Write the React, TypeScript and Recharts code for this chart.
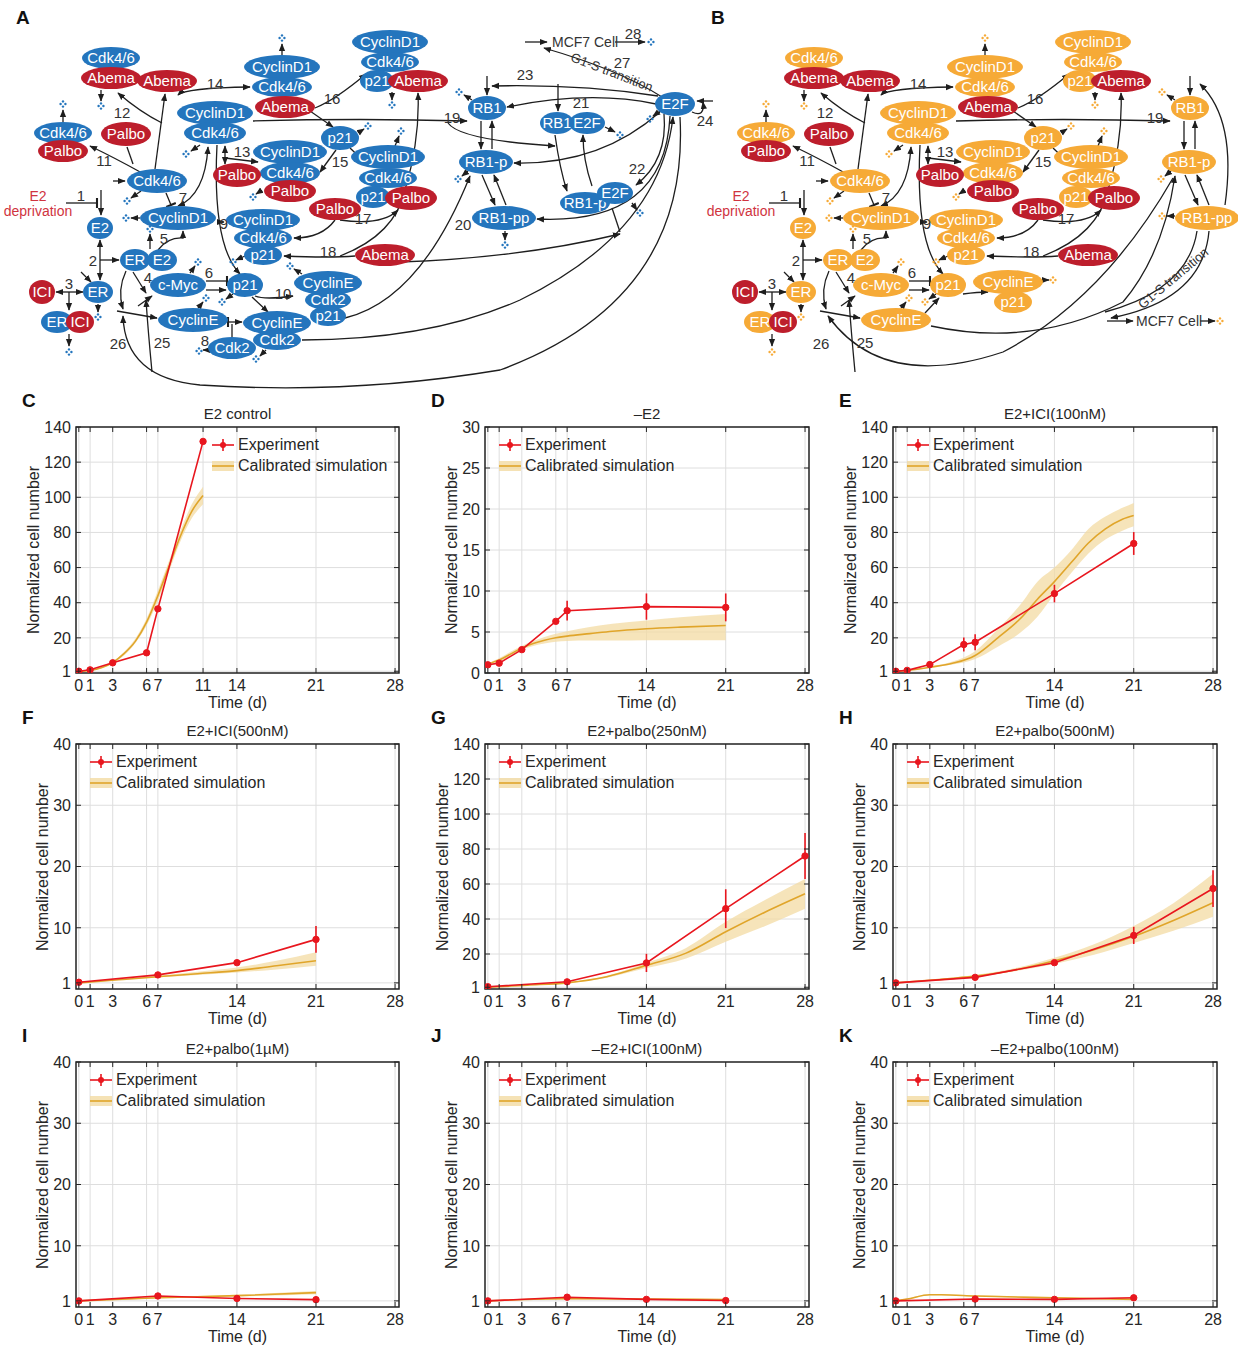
import React from 'react';
import { ComposedChart, Line, Area, XAxis, YAxis, CartesianGrid, ErrorBar, ReferenceArea } from 'recharts';

const FONT = '"Liberation Sans", Arial, Helvetica, sans-serif';
const RED = '#e8161e';
const ORANGE = '#e0a52a';
const BAND = '#f3dba3';
const BLUE = '#2475bd';
const DARKRED = '#bd1e2c';
const ORANGE_NODE = '#f6aa37';
const INK = '#262626';

// ---------------- tick labels ----------------
const xTicksC = [0, 1, 3, 6, 7, 11, 14, 21, 28];
const xTicksStd = [0, 1, 3, 6, 7, 14, 21, 28];
const yTicks140 = [1, 20, 40, 60, 80, 100, 120, 140];
const yTicks30 = [0, 5, 10, 15, 20, 25, 30];
const yTicks40 = [1, 10, 20, 30, 40];

// ---------------- C: E2 control ----------------
const cExpDays = [0, 1, 3, 6, 7, 11];
const cExpVals = [1, 1.8, 5.8, 11.5, 36.5, 131.8];
const cExpErr = [0.2, 0.3, 0.4, 0.6, 0.8, 1.2];
const cSimDays = [0, 1, 2, 3, 4, 5, 6, 7, 8, 9, 10, 11];
const cSimMid = [1, 1.5, 3, 6, 11, 18, 29, 44, 61, 78, 92, 101];
const cSimLo = [1, 1.4, 2.8, 5.6, 10, 17, 27, 41, 58, 75, 88, 96];
const cSimHi = [1, 1.6, 3.2, 6.4, 12, 19.5, 31, 47, 64, 81, 96, 106];

// ---------------- D: -E2 ----------------
const dExpDays = [0, 1, 3, 6, 7, 14, 21];
const dExpVals = [1.0, 1.2, 2.85, 6.3, 7.6, 8.1, 8.0];
const dExpErr = [0.2, 0.2, 0.2, 0.3, 1.2, 1.6, 1.7];
const dSimDays = [0, 1, 2, 3, 4, 5, 6, 7, 9, 11, 14, 17, 21];
const dSimMid = [1.1, 1.6, 2.3, 3.05, 3.6, 4.0, 4.3, 4.5, 4.8, 5.1, 5.4, 5.6, 5.8];
const dSimLo = [1.0, 1.4, 2.1, 2.8, 3.3, 3.6, 3.8, 3.9, 3.95, 3.95, 4.0, 4.0, 4.0];
const dSimHi = [1.2, 1.8, 2.6, 3.3, 3.9, 4.4, 4.8, 5.1, 5.6, 6.0, 6.4, 6.8, 7.2];

// ---------------- E: E2+ICI(100nM) ----------------
const eExpDays = [0, 1, 3, 6, 7, 14, 21];
const eExpVals = [1, 1.5, 4.8, 16.2, 17.5, 45.2, 73.7];
const eExpErr = [0.3, 0.3, 1, 4, 4.5, 5, 6.5];
const eSimDays = [0, 1, 3, 5, 7, 9, 11, 12.5, 14, 15.5, 17, 18.5, 20, 21];
const eSimMid = [1, 1.5, 3.3, 5.5, 10, 20, 31, 42, 52, 63, 74, 82, 87.5, 89.6];
const eSimLo = [1, 1.4, 3, 4.8, 8, 15, 23, 32, 45, 57, 68, 76, 81, 83.5];
const eSimHi = [1, 1.6, 3.6, 6.5, 12.4, 25, 39, 52, 60, 70, 82, 89, 94, 96.8];

// ---------------- F: E2+ICI(500nM) ----------------
const fExpDays = [0, 7, 14, 21];
const fExpVals = [1.1, 2.3, 4.3, 8.1];
const fExpErr = [0.2, 0.3, 0.3, 2.2];
const fSimDays = [0, 3.5, 7, 10.5, 14, 17.5, 21];
const fSimMid = [1.0, 1.5, 2.0, 2.5, 3.0, 3.8, 4.6];
const fSimLo = [1.0, 1.45, 1.9, 2.3, 2.7, 3.2, 3.8];
const fSimHi = [1.0, 1.55, 2.15, 2.8, 3.5, 4.6, 6.0];

// ---------------- G: E2+palbo(250nM) ----------------
const gExpDays = [0, 7, 14, 21, 28];
const gExpVals = [1.3, 4.1, 14.9, 45.9, 76];
const gExpErr = [0.5, 1, 5.2, 11.1, 13.2];
const gSimDays = [0, 3.5, 7, 10.5, 14, 17.5, 21, 24.5, 28];
const gSimMid = [1, 2.2, 3.5, 7, 13.5, 20.5, 32.7, 44, 54.4];
const gSimLo = [1, 2.1, 3.3, 6.5, 12, 17.5, 27, 36, 45.9];
const gSimHi = [1, 2.3, 3.7, 7.6, 15, 23.5, 38.4, 51, 62.8];

// ---------------- H: E2+palbo(500nM) ----------------
const hExpDays = [0, 7, 14, 21, 28];
const hExpVals = [1.0, 1.9, 4.3, 8.75, 16.4];
const hExpErr = [0.1, 0.2, 0.2, 1.4, 3];
const hSimDays = [0, 3.5, 7, 10.5, 14, 17.5, 21, 24.5, 28];
const hSimMid = [1.0, 1.5, 2.1, 3.1, 4.6, 6.4, 8.6, 11.2, 14.1];
const hSimLo = [1.0, 1.45, 2.0, 2.9, 4.1, 5.6, 7.5, 9.5, 11.8];
const hSimHi = [1.0, 1.6, 2.3, 3.4, 5.1, 7.3, 10.3, 14, 18.8];

// ---------------- I: E2+palbo(1µM) ----------------
const iExpDays = [0, 7, 14, 21];
const iExpVals = [1.0, 1.8, 1.4, 1.2];
const iExpErr = [0.1, 0.15, 0.15, 0.1];
const iSimDays = [0, 7, 14, 21];
const iSimMid = [1.0, 1.5, 1.85, 2.35];
const iSimLo = [0.95, 1.4, 1.7, 2.1];
const iSimHi = [1.05, 1.6, 2.0, 2.6];

// ---------------- J: -E2+ICI(100nM) ----------------
const jExpDays = [0, 7, 14, 21];
const jExpVals = [1.0, 1.6, 1.25, 1.05];
const jExpErr = [0.1, 0.15, 0.1, 0.1];
const jSimDays = [0, 7, 14, 21];
const jSimMid = [1.0, 1.35, 1.3, 1.2];
const jSimLo = [0.95, 1.25, 1.2, 1.1];
const jSimHi = [1.05, 1.45, 1.4, 1.3];

// ---------------- K: -E2+palbo(100nM) ----------------
const kExpDays = [0, 7, 14, 21];
const kExpVals = [1.0, 1.3, 1.25, 1.5];
const kExpErr = [0.1, 0.1, 0.1, 0.15];
const kSimDays = [0, 1, 3, 4, 7, 14, 21];
const kSimMid = [1.0, 1.3, 2.0, 2.0, 1.8, 1.5, 1.25];
const kSimLo = [0.95, 1.2, 1.9, 1.9, 1.7, 1.4, 1.15];
const kSimHi = [1.05, 1.4, 2.1, 2.1, 1.9, 1.6, 1.35];

const buildExp = (days: number[], vals: number[], err: number[]) =>
  days.map((t, i) => ({ t, v: vals[i], err: err[i] }));
const buildSim = (days: number[], mid: number[], lo: number[], hi: number[]) =>
  days.map((t, i) => ({ t, m: mid[i], band: [lo[i], hi[i]] }));

const X_MIN = -0.25;
const X_MAX = 28.35;

type PanelProps = {
  letter: string; title: string;
  px0: number; px1: number; py0: number; py1: number;
  yMax: number; yTicks: number[]; xTicks: number[];
  exp: any[]; sim: any[]; legendX?: number;
};

function Panel(p: PanelProps) {
  const W = p.px1 - p.px0;
  const H = p.py1 - p.py0;
  const left = p.px0 - 70;
  const top = p.py0 - 8;
  const XTick = (props: any) => {
    const { x, y, payload } = props;
    const ay = y - 6;
    return (
      <g>
        <line x1={x} x2={x} y1={ay} y2={ay - 5} stroke={INK} strokeWidth={1} />
        <line x1={x} x2={x} y1={ay - H} y2={ay - H + 5} stroke={INK} strokeWidth={1} />
        <text x={x} y={y} dy="0.75em" textAnchor="middle" fontSize={16} fill={INK} fontFamily={FONT}>{payload.value}</text>
      </g>
    );
  };
  const YTick = (props: any) => {
    const { x, y, payload } = props;
    const ax = x + 5;
    return (
      <g>
        <line x1={ax} x2={ax + 5} y1={y} y2={y} stroke={INK} strokeWidth={1} />
        <line x1={ax + W} x2={ax + W - 5} y1={y} y2={y} stroke={INK} strokeWidth={1} />
        <text x={x} y={y} dy="0.36em" textAnchor="end" fontSize={16} fill={INK} fontFamily={FONT}>{payload.value}</text>
      </g>
    );
  };
  const lx = p.legendX ?? p.px0 + 14;
  const yLabOff = p.yMax >= 100 ? 42 : 33;
  return (
    <>
      <div style={{ position: 'absolute', left: p.px0 - 54, top: p.py0 - 37, fontSize: 19, fontWeight: 'bold', color: '#111' }}>{p.letter}</div>
      <div style={{ position: 'absolute', left: (p.px0 + p.px1) / 2, top: p.py0 - 14, transform: 'translate(-50%,-50%)', fontSize: 15, color: INK, whiteSpace: 'nowrap' }}>{p.title}</div>
      <div style={{ position: 'absolute', left: left, top: top }}>
        <ComposedChart width={W + 82} height={H + 48} margin={{ top: 8, right: 12, left: 0, bottom: 0 }}>
          <CartesianGrid stroke="#dedede" strokeWidth={1} />
          <XAxis type="number" dataKey="t" domain={[X_MIN, X_MAX]} ticks={p.xTicks} interval={0} allowDataOverflow
            height={40} tickSize={0} tickMargin={6} axisLine={false} tickLine={false} tick={XTick} />
          <YAxis type="number" domain={[0, p.yMax]} ticks={p.yTicks} interval={0} allowDataOverflow
            width={70} tickSize={0} tickMargin={5} axisLine={false} tickLine={false} tick={YTick} />
          <Area data={p.sim} dataKey="band" type="monotone" stroke="none" fill={BAND} fillOpacity={0.75} isAnimationActive={false} />
          <Line data={p.sim} dataKey="m" type="monotone" stroke={ORANGE} strokeWidth={1.6} dot={false} isAnimationActive={false} />
          <Line data={p.exp} dataKey="v" type="linear" stroke={RED} strokeWidth={1.6}
            dot={{ r: 3.2, fill: RED, stroke: RED, strokeWidth: 1 }} isAnimationActive={false}>
            <ErrorBar dataKey="err" width={0} stroke={RED} strokeWidth={1.6} direction="y" />
          </Line>
          <ReferenceArea x1={X_MIN} x2={X_MAX} y1={0} y2={p.yMax} fill="none" fillOpacity={0} stroke={INK} strokeWidth={1.5} ifOverflow="visible" />
        </ComposedChart>
      </div>
      <div style={{ position: 'absolute', left: (p.px0 + p.px1) / 2, top: p.py1 + 30, transform: 'translate(-50%,-50%)', fontSize: 16, color: INK, whiteSpace: 'nowrap' }}>Time (d)</div>
      <div style={{ position: 'absolute', left: p.px0 - yLabOff, top: (p.py0 + p.py1) / 2, transform: 'translate(-50%,-50%) rotate(-90deg)', fontSize: 16, color: INK, whiteSpace: 'nowrap' }}>Normalized cell number</div>
      <svg width={24} height={50} style={{ position: 'absolute', left: lx, top: p.py0 + 6 }}>
        <line x1={0} x2={22} y1={12} y2={12} stroke={RED} strokeWidth={1.6} />
        <line x1={11} x2={11} y1={6} y2={18} stroke={RED} strokeWidth={1.6} />
        <circle cx={11} cy={12} r={3} fill={RED} />
        <rect x={0} y={28} width={22} height={10} fill={BAND} fillOpacity={0.8} />
        <line x1={0} x2={22} y1={33} y2={33} stroke={ORANGE} strokeWidth={1.6} />
      </svg>
      <div style={{ position: 'absolute', left: lx + 26, top: p.py0 + 18, transform: 'translateY(-50%)', fontSize: 16, color: INK, whiteSpace: 'nowrap' }}>Experiment</div>
      <div style={{ position: 'absolute', left: lx + 26, top: p.py0 + 39, transform: 'translateY(-50%)', fontSize: 16, color: INK, whiteSpace: 'nowrap' }}>Calibrated simulation</div>
    </>
  );
}

// ---------------- network diagrams (A / B) ----------------
type N = [string, number, number, number, number, string];
const sharedNodes: N[] = [
  ['Cdk4/6', 111, 58, 29, 11, 'b'], ['Abema', 111, 78, 30, 11, 'r'], ['Abema', 167, 81, 30, 11, 'r'],
  ['Cdk4/6', 63, 133, 29, 11, 'b'], ['Palbo', 63, 151, 25, 11, 'r'], ['Palbo', 126, 134, 25, 12, 'r'],
  ['CyclinD1', 282, 67, 38, 12, 'b'], ['Cdk4/6', 282, 87, 30, 10, 'b'], ['Abema', 285, 107, 30, 11, 'r'],
  ['CyclinD1', 390, 42, 38, 12, 'b'], ['Cdk4/6', 390, 62, 29, 10, 'b'], ['p21', 377, 81, 17, 11, 'b'], ['Abema', 418, 81, 30, 11, 'r'],
  ['CyclinD1', 215, 113, 38, 12, 'b'], ['Cdk4/6', 215, 133, 31, 11, 'b'],
  ['p21', 340, 138, 19, 12, 'b'],
  ['CyclinD1', 290, 152, 37, 12, 'b'], ['Cdk4/6', 290, 173, 30, 11, 'b'], ['Palbo', 290, 191, 26, 11, 'r'], ['Palbo', 237, 175, 24, 12, 'r'],
  ['CyclinD1', 388, 157, 37, 12, 'b'], ['Cdk4/6', 388, 178, 29, 10, 'b'], ['p21', 373, 197, 17, 11, 'b'], ['Palbo', 411, 198, 26, 12, 'r'],
  ['Palbo', 335, 209, 26, 11, 'r'],
  ['Cdk4/6', 157, 181, 30, 12, 'b'], ['E2', 100, 228, 13, 11, 'b'], ['CyclinD1', 178, 218, 38, 12, 'b'],
  ['CyclinD1', 263, 220, 37, 11, 'b'], ['Cdk4/6', 263, 238, 29, 10, 'b'], ['p21', 263, 255, 19, 10, 'b'],
  ['Abema', 385, 255, 30, 11, 'r'],
  ['ER', 135, 260, 15, 11, 'b'], ['E2', 162, 260, 15, 11, 'b'], ['c-Myc', 178, 285, 28, 12, 'b'], ['p21', 245, 285, 18, 12, 'b'],
  ['ICI', 42, 292, 13, 12, 'r'], ['ER', 98, 292, 15, 11, 'b'], ['ER', 57, 322, 16, 11, 'b'], ['ICI', 80, 322, 14, 11, 'r'],
  ['CyclinE', 193, 320, 35, 12, 'b'],
  ['RB1', 487, 108, 19, 12, 'b'], ['RB1-p', 486, 162, 27, 12, 'b'], ['RB1-pp', 504, 218, 32, 12, 'b'],
];
const aNodes: N[] = [
  ['CyclinE', 328, 283, 34, 12, 'b'], ['Cdk2', 328, 300, 23, 10, 'b'], ['p21', 328, 316, 18, 10, 'b'],
  ['CyclinE', 277, 323, 34, 12, 'b'], ['Cdk2', 277, 340, 24, 10, 'b'], ['Cdk2', 232, 348, 24, 11, 'b'],
  ['RB1', 557, 123, 17, 11, 'b'], ['E2F', 587, 123, 18, 11, 'b'],
  ['RB1-p', 585, 203, 25, 11, 'b'], ['E2F', 615, 193, 18, 11, 'b'], ['E2F', 675, 104, 20, 12, 'b'],
];
const bNodes: N[] = [
  ['p21', 310, 302, 19, 11, 'b'], ['CyclinE', 305, 282, 35, 12, 'b'],
];

type E = { d: string; e?: string; s?: string };
const sharedEdges: E[] = [
  { d: 'M66 203 H97', e: 'b' }, { d: 'M101 190 V215', e: 'a' },
  { d: 'M100 240 V280', e: 'a', s: 'a' }, { d: 'M100 260 H119', e: 'a' },
  { d: 'M56 292 H83', e: 'a', s: 'a' }, { d: 'M69 292 V310', e: 'a' }, { d: 'M81 272 L91 282', e: 'a' },
  { d: 'M98 304 V312', e: 'a' }, { d: 'M69 334 V346', e: 'a' },
  { d: 'M133 272 L146 293', e: 'a' }, { d: 'M138 306 L152 296', e: 'a' }, { d: 'M126 271 Q117 290 123 309', e: 'a' },
  { d: 'M150 249 V234', e: 'a' }, { d: 'M158 250 Q168 237 183 238 V231', e: 'a' },
  { d: 'M140 218 H131', e: 'a' }, { d: 'M113 181 H125', e: 'a' }, { d: 'M141 191 L131 198', e: 'a' },
  { d: 'M166 193 L171 205', e: 'b' }, { d: 'M178 206 Q205 195 208 147', e: 'a', s: 'a' },
  { d: 'M142 173 Q115 158 90 146', e: 'a' }, { d: 'M127 147 L133 164' },
  { d: 'M162 123 Q140 112 118 93', e: 'a' }, { d: 'M155 169 L165 94', e: 'a' },
  { d: 'M101 90 V101', e: 'a' }, { d: 'M63 122 V110', e: 'a' },
  { d: 'M178 95 Q185 88 250 87', e: 'a', s: 'a' }, { d: 'M282 55 V44', e: 'a' },
  { d: 'M200 145 L191 151', e: 'a' },
  { d: 'M225 146 V164', e: 'a', s: 'a' }, { d: 'M225 158 L258 162', e: 'a' }, { d: 'M262 190 L256 194', e: 'a' },
  { d: 'M315 108 Q335 100 366 74', e: 'a' }, { d: 'M310 111 L333 127', e: 'a' }, { d: 'M358 133 L364 129', e: 'a' },
  { d: 'M336 150 L320 172', e: 'a' }, { d: 'M350 148 L368 165', e: 'a' },
  { d: 'M395 146 L399 136', e: 'a' }, { d: 'M392 92 V100', e: 'a' },
  { d: 'M340 220 Q382 226 398 210', e: 'a' }, { d: 'M335 220 Q322 238 294 238', e: 'a' },
  { d: 'M217 145 Q212 245 240 274', e: 'a' }, { d: 'M218 222 H224', e: 'a' }, { d: 'M245 256 L236 260', e: 'a' },
  { d: 'M355 256 Q330 258 284 256', e: 'a' }, { d: 'M340 256 Q395 235 405 190 Q420 140 418 93', e: 'a' },
  { d: 'M206 281 H227', e: 'b' }, { d: 'M206 290 H226', e: 'a' },
  { d: 'M190 273 L195 266', e: 'a' }, { d: 'M233 294 L226 299', e: 'a' },
  { d: 'M117 311 L157 318', e: 'a' }, { d: 'M198 308 L203 302', e: 'a' },
  { d: 'M152 372 Q148 330 146 300', e: 'a' },
  { d: 'M253 121 Q360 118 467 121', e: 'a' },
  { d: 'M481 121 V149', e: 'a' }, { d: 'M492 149 V121', e: 'a' },
  { d: 'M482 175 L495 205', e: 'a' }, { d: 'M506 205 L494 175', e: 'a' },
  { d: 'M472 100 L464 95', e: 'a' }, { d: 'M468 171 L462 176', e: 'a' },
  { d: 'M487 76 V95', e: 'a' },
];
const aEdges: E[] = [
  { d: 'M228 322 H242', e: 'a', s: 'b' }, { d: 'M232 337 V324' },
  { d: 'M208 350 H203', e: 'a' }, { d: 'M266 350 L260 356', e: 'a' },
  { d: 'M255 296 Q265 300 293 296', e: 'a' }, { d: 'M252 297 L268 312', e: 'a' },
  { d: 'M302 274 L294 269', e: 'a' },
  { d: 'M448 123 Q460 140 555 146', e: 'a' },
  { d: 'M505 231 V240', e: 'a' },
  { d: 'M658 96 Q580 84 492 86', e: 'a' },
  { d: 'M558 84 V111', e: 'a' }, { d: 'M656 104 Q590 90 507 107', e: 'a' },
  { d: 'M555 135 Q560 170 567 191', e: 'a' }, { d: 'M592 186 Q583 160 583 135', e: 'a' },
  { d: 'M605 127 L615 132', e: 'a' }, { d: 'M632 203 L637 210', e: 'a' },
  { d: 'M664 114 Q668 160 636 185', e: 'a' }, { d: 'M660 112 Q600 165 514 163', e: 'a' },
  { d: 'M670 116 Q665 225 537 219', e: 'a' }, { d: 'M612 208 L620 232' },
  { d: 'M692 112 Q705 118 703 102', e: 'a' }, { d: 'M713 101 H697', e: 'a' },
  { d: 'M660 111 L653 116', e: 'a' },
  { d: 'M525 42 H547', e: 'a' }, { d: 'M615 42 H645', e: 'a' },
  { d: 'M662 97 Q620 70 544 48', e: 'a' },
  { d: 'M302 340 Q430 340 520 300 Q660 232 673 117', e: 'a' },
  { d: 'M345 318 Q420 300 470 176', e: 'a' },
  { d: 'M400 262 Q520 258 620 234', e: 'a' },
  { d: 'M680 117 Q690 300 500 370 Q350 395 200 385 Q125 378 123 316', e: 'a' },
];
const bEdges: E[] = [
  { d: 'M260 294 Q275 292 285 292', e: 'a' }, { d: 'M222 313 L236 298', e: 'a' },
  { d: 'M340 280 H346', e: 'a' },
  { d: 'M228 326 Q330 348 420 302 Q460 255 472 176', e: 'a' },
  { d: 'M522 205 Q534 120 497 84', e: 'a' },
  { d: 'M472 216 H464', e: 'a' },
  { d: 'M506 231 Q500 300 408 318', e: 'a' }, { d: 'M494 231 Q485 290 402 312' },
  { d: 'M404 321 H430', e: 'a' }, { d: 'M497 321 H512', e: 'a' },
  { d: 'M470 178 Q400 300 300 352 Q180 392 125 316', e: 'a' },
];

type T = [string, number, number];
const sharedNums: T[] = [
  ['1', 81, 196], ['2', 93, 261], ['3', 69, 284], ['4', 148, 278], ['5', 164, 239], ['6', 209, 273], ['7', 183, 198],
  ['9', 224, 224], ['11', 104, 161], ['12', 122, 113], ['13', 242, 152], ['14', 215, 84], ['15', 340, 162],
  ['16', 332, 99], ['17', 363, 219], ['18', 328, 252], ['19', 452, 118], ['25', 162, 343], ['26', 118, 344],
];
const aNums: T[] = [
  ['8', 205, 341], ['10', 283, 294], ['20', 463, 225], ['21', 581, 103], ['22', 637, 169],
  ['23', 525, 75], ['24', 705, 121], ['27', 622, 63], ['28', 633, 34],
];
const sharedDots: [number, number][] = [
  [63, 104], [101, 106], [126, 218], [127, 201], [98, 317], [69, 352], [150, 229], [198, 262], [222, 302],
  [186, 154], [282, 38], [253, 197], [233, 262], [368, 126], [206, 298], [401, 131], [392, 105], [459, 92], [458, 179],
];
const aDots: [number, number][] = [[199, 351], [256, 359], [290, 266], [505, 245], [620, 135], [640, 213], [650, 119], [651, 42]];
const bDots: [number, number][] = [[350, 280], [459, 216], [517, 321]];

function Dots({ x, y, c }: { x: number; y: number; c: string }) {
  return (
    <g fill={c}>
      <circle cx={x} cy={y - 2.6} r={1.2} /><circle cx={x - 2.4} cy={y} r={1.2} />
      <circle cx={x + 2.4} cy={y} r={1.2} /><circle cx={x} cy={y + 2.6} r={1.2} />
    </g>
  );
}

function Net({ dx, color, nodes, edges, nums, dots, variant }: any) {
  return (
    <g transform={`translate(${dx},0)`} fontFamily={FONT}>
      {edges.map((e: E, i: number) => (
        <path key={i} d={e.d} fill="none" stroke="#1e1e1e" strokeWidth={1.3}
          markerEnd={e.e === 'a' ? 'url(#arr)' : e.e === 'b' ? 'url(#bar)' : undefined}
          markerStart={e.s === 'a' ? 'url(#arr)' : e.s === 'b' ? 'url(#bar)' : undefined} />
      ))}
      {dots.map((d: [number, number], i: number) => <Dots key={i} x={d[0]} y={d[1]} c={color} />)}
      {nodes.map((n: N, i: number) => (
        <g key={i}>
          <ellipse cx={n[1]} cy={n[2]} rx={n[3]} ry={n[4]} fill={n[5] === 'r' ? DARKRED : color} />
          <text x={n[1]} y={n[2]} dy="0.36em" textAnchor="middle" fill="#fff" fontSize={15}>{n[0]}</text>
        </g>
      ))}
      {nums.map((t: T, i: number) => (
        <text key={i} x={t[1]} y={t[2]} dy="0.36em" textAnchor="middle" fill="#333" fontSize={15}>{t[0]}</text>
      ))}
      <text x={38} y={196} dy="0.36em" textAnchor="middle" fill="#d0343f" fontSize={14}>E2</text>
      <text x={38} y={211} dy="0.36em" textAnchor="middle" fill="#d0343f" fontSize={14}>deprivation</text>
      {variant === 'A' ? (
        <>
          <text x={552} y={42} dy="0.36em" fill="#333" fontSize={14}>MCF7 Cell</text>
          <text x={612} y={72} dy="0.36em" textAnchor="middle" fill="#333" fontSize={13} transform="rotate(21 612 72)">G1-S transition</text>
        </>
      ) : (
        <>
          <text x={433} y={321} dy="0.36em" fill="#333" fontSize={14}>MCF7 Cell</text>
          <text x={470} y={278} dy="0.36em" textAnchor="middle" fill="#333" fontSize={13} transform="rotate(-40 470 278)">G1-S transition</text>
        </>
      )}
    </g>
  );
}

function Diagrams() {
  return (
    <svg width={1238} height={392} style={{ position: 'absolute', left: 0, top: 0 }}>
      <defs>
        <marker id="arr" viewBox="0 0 10 10" refX="9" refY="5" markerWidth="6" markerHeight="6" orient="auto-start-reverse">
          <path d="M0,1 L10,5 L0,9 z" fill="#1e1e1e" />
        </marker>
        <marker id="bar" viewBox="0 0 10 10" refX="5" refY="5" markerWidth="8" markerHeight="8" orient="auto">
          <path d="M5,0 V10" stroke="#1e1e1e" strokeWidth="2" />
        </marker>
      </defs>
      <text x={16} y={24} fontSize={19} fontWeight="bold" fill="#111" fontFamily={FONT}>A</text>
      <text x={711} y={24} fontSize={19} fontWeight="bold" fill="#111" fontFamily={FONT}>B</text>
      <Net dx={0} color={BLUE} variant="A" nodes={[...sharedNodes, ...aNodes]} edges={[...sharedEdges, ...aEdges]}
        nums={[...sharedNums, ...aNums]} dots={[...sharedDots, ...aDots]} />
      <Net dx={703} color={ORANGE_NODE} variant="B" nodes={[...sharedNodes, ...bNodes]} edges={[...sharedEdges, ...bEdges]}
        nums={sharedNums} dots={[...sharedDots, ...bDots]} />
    </svg>
  );
}

const COLS: [number, number][] = [[76, 399], [485, 809], [893, 1217]];
const ROWS: [number, number][] = [[427, 673], [744, 989], [1062, 1307]];

export default function App() {
  const cell = (c: number, r: number) => ({ px0: COLS[c][0], px1: COLS[c][1], py0: ROWS[r][0], py1: ROWS[r][1] });
  return (
    <div style={{ position: 'absolute', left: 0, top: 0, width: 1238, height: 1347, background: '#fff', fontFamily: FONT, overflow: 'hidden' }}>
      <Diagrams />
      <Panel letter="C" title="E2 control" {...cell(0, 0)} yMax={140} yTicks={yTicks140} xTicks={xTicksC}
        exp={buildExp(cExpDays, cExpVals, cExpErr)} sim={buildSim(cSimDays, cSimMid, cSimLo, cSimHi)} legendX={212} />
      <Panel letter="D" title="–E2" {...cell(1, 0)} yMax={30} yTicks={yTicks30} xTicks={xTicksStd}
        exp={buildExp(dExpDays, dExpVals, dExpErr)} sim={buildSim(dSimDays, dSimMid, dSimLo, dSimHi)} />
      <Panel letter="E" title="E2+ICI(100nM)" {...cell(2, 0)} yMax={140} yTicks={yTicks140} xTicks={xTicksStd}
        exp={buildExp(eExpDays, eExpVals, eExpErr)} sim={buildSim(eSimDays, eSimMid, eSimLo, eSimHi)} />
      <Panel letter="F" title="E2+ICI(500nM)" {...cell(0, 1)} yMax={40} yTicks={yTicks40} xTicks={xTicksStd}
        exp={buildExp(fExpDays, fExpVals, fExpErr)} sim={buildSim(fSimDays, fSimMid, fSimLo, fSimHi)} />
      <Panel letter="G" title="E2+palbo(250nM)" {...cell(1, 1)} yMax={140} yTicks={yTicks140} xTicks={xTicksStd}
        exp={buildExp(gExpDays, gExpVals, gExpErr)} sim={buildSim(gSimDays, gSimMid, gSimLo, gSimHi)} />
      <Panel letter="H" title="E2+palbo(500nM)" {...cell(2, 1)} yMax={40} yTicks={yTicks40} xTicks={xTicksStd}
        exp={buildExp(hExpDays, hExpVals, hExpErr)} sim={buildSim(hSimDays, hSimMid, hSimLo, hSimHi)} />
      <Panel letter="I" title="E2+palbo(1µM)" {...cell(0, 2)} yMax={40} yTicks={yTicks40} xTicks={xTicksStd}
        exp={buildExp(iExpDays, iExpVals, iExpErr)} sim={buildSim(iSimDays, iSimMid, iSimLo, iSimHi)} />
      <Panel letter="J" title="–E2+ICI(100nM)" {...cell(1, 2)} yMax={40} yTicks={yTicks40} xTicks={xTicksStd}
        exp={buildExp(jExpDays, jExpVals, jExpErr)} sim={buildSim(jSimDays, jSimMid, jSimLo, jSimHi)} />
      <Panel letter="K" title="–E2+palbo(100nM)" {...cell(2, 2)} yMax={40} yTicks={yTicks40} xTicks={xTicksStd}
        exp={buildExp(kExpDays, kExpVals, kExpErr)} sim={buildSim(kSimDays, kSimMid, kSimLo, kSimHi)} />
    </div>
  );
}
